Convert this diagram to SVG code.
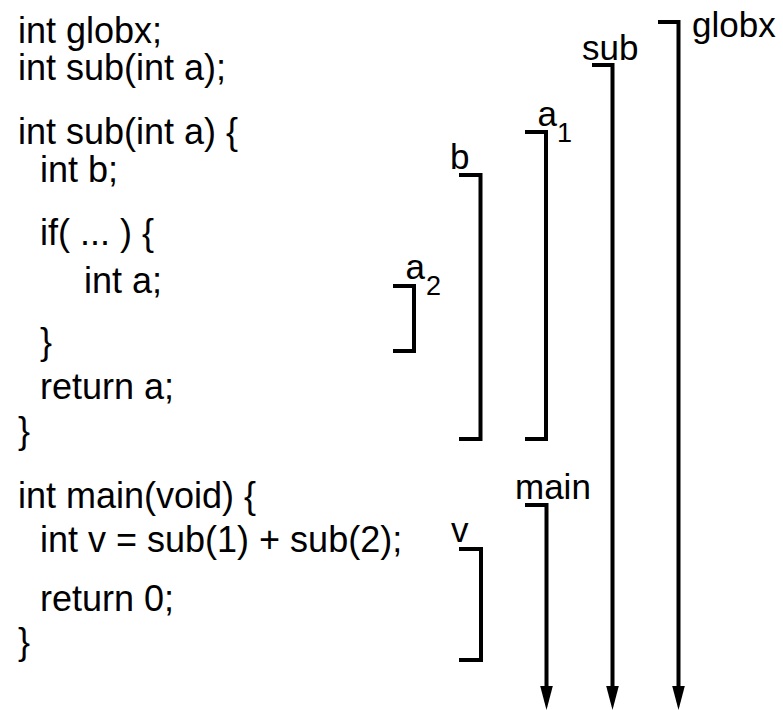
<svg xmlns="http://www.w3.org/2000/svg" width="783" height="710" viewBox="0 0 783 710">
<style>
text{font-family:"Liberation Sans",Arial,sans-serif;fill:#000}
.code{font-size:36px}
.lbl{font-size:35px}
.sub{font-size:27px}
.br{fill:none;stroke:#000;stroke-width:4;stroke-linecap:butt;stroke-linejoin:miter}
</style>
<rect width="783" height="710" fill="#fff"/>
<g id="code">
<text class="code" x="18" y="43">int globx;</text>
<text class="code" x="18" y="80">int sub(int a);</text>
<text class="code" x="18" y="144">int sub(int a) {</text>
<text class="code" x="40" y="182">int b;</text>
<text class="code" x="40" y="245">if( ... ) {</text>
<text class="code" x="84" y="293">int a;</text>
<text class="code" x="40" y="354">}</text>
<text class="code" x="40" y="399">return a;</text>
<text class="code" x="18" y="443">}</text>
<text class="code" x="18" y="508">int main(void) {</text>
<text class="code" x="40" y="552">int v = sub(1) + sub(2);</text>
<text class="code" x="40" y="611">return 0;</text>
<text class="code" x="18" y="654">}</text>
</g>
<g id="scope-a2">
<path class="br" d="M393,286 H414 V351 H393"/>
<text class="lbl" x="405.5" y="279">a</text><text class="sub" x="426" y="295">2</text>
</g>
<g id="scope-b">
<path class="br" d="M459,175 H480.5 V439 H459"/>
<text class="lbl" x="450" y="169">b</text>
</g>
<g id="scope-a1">
<path class="br" d="M525,132 H546 V439 H525"/>
<text class="lbl" x="537.5" y="126">a</text><text class="sub" x="557" y="142">1</text>
</g>
<g id="scope-v">
<path class="br" d="M459,549 H481 V660 H459"/>
<text class="lbl" x="451" y="542">v</text>
</g>
<g id="scope-main">
<path class="br" d="M525,505 H546.5 V688"/>
<text class="lbl" x="515" y="499">main</text>
</g>
<g id="scope-sub">
<path class="br" d="M592,65 H612.5 V688"/>
<text class="lbl" x="582" y="60">sub</text>
</g>
<g id="scope-globx">
<path class="br" d="M658,22 H678.5 V688"/>
<text class="lbl" x="692" y="37">globx</text>
</g>
<g id="connectors">
<polygon points="540.2,686 552.8,686 546.5,710"/>
<polygon points="606.2,686 618.8,686 612.5,710"/>
<polygon points="672.2,686 684.8,686 678.5,710"/>
</g>
</svg>
